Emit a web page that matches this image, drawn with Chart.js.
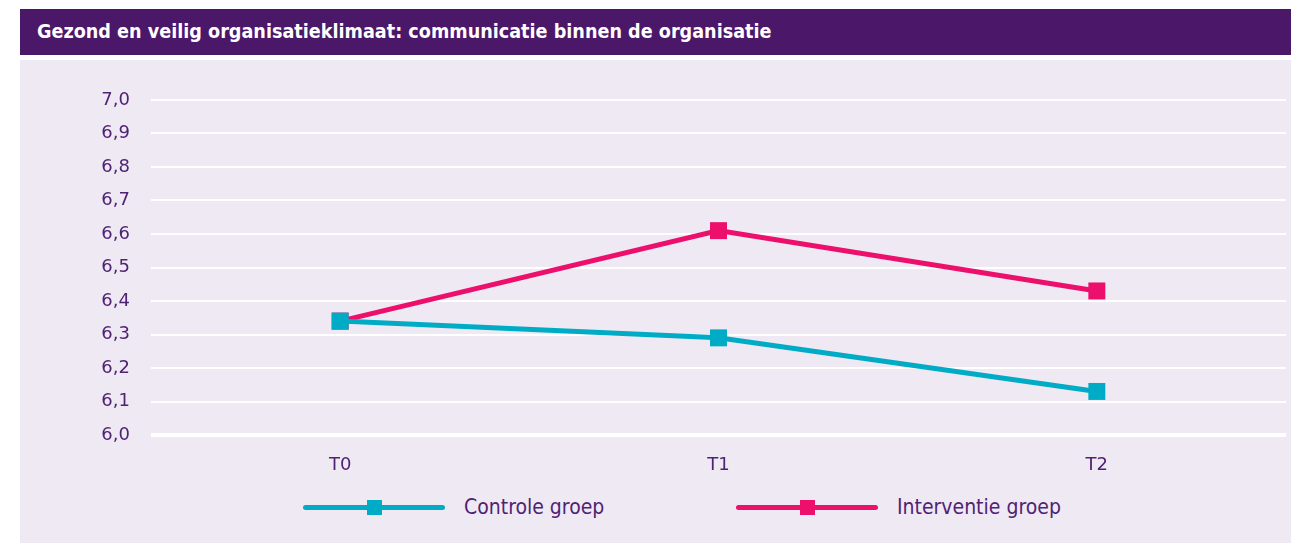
<!DOCTYPE html>
<html lang="nl">
<head>
    <meta charset="UTF-8">
    <title>Communicatie binnen de organisatie</title>
    <script src="https://cdn.jsdelivr.net/npm/chart.js"></script>
    <style>
        body {
            margin: 0;
            background: #ffffff;
            width: 1306px;
            height: 543px;
            position: relative;
            overflow: hidden;
        }

        .title-bar {
            position: absolute;
            left: 20px;
            top: 9px;
            width: 1271px;
            height: 46px;
            background: #4b1769;
            color: #ffffff;
            font-family: 'DejaVu Sans Condensed', sans-serif;
            font-weight: bold;
            font-size: 19.6px;
            line-height: 46px;
            padding-left: 17px;
            box-sizing: border-box;
        }

        .panel {
            position: absolute;
            left: 20px;
            top: 60px;
            width: 1271px;
            height: 483px;
            background: #efe9f4;
        }

        /* a bit wider than the panel: the line controller keeps
           half a marker of padding on the right */
        .chart-wrap {
            position: absolute;
            left: 0;
            top: 0;
            width: 1278px;
            height: 430px;
        }

        .legend {
            position: absolute;
            top: 433px;
            left: 0;
            height: 28px;
            width: 1271px;
        }

        .legend-item {
            position: absolute;
            top: 0;
            height: 28px;
            display: flex;
            align-items: center;
        }

        .legend-swatch {
            position: relative;
            width: 142px;
            height: 28px;
            margin-right: 19px;
        }

        .legend-swatch .line {
            position: absolute;
            left: 0;
            right: 0;
            top: 11.5px;
            height: 5px;
            border-radius: 3px;
        }

        .legend-swatch .mark {
            position: absolute;
            left: 63.5px;
            top: 6.5px;
            width: 15px;
            height: 15px;
        }

        .legend-text {
            font-family: 'DejaVu Sans Condensed', sans-serif;
            font-size: 21px;
            color: #4f2374;
        }
    </style>
</head>
<body>
    <div class="title-bar">Gezond en veilig organisatieklimaat: communicatie binnen de organisatie</div>
    <div class="panel">
        <div class="chart-wrap">
            <canvas id="lineChart"></canvas>
        </div>
        <div class="legend" id="legend"></div>
    </div>

    <script>
        const categories = ['T0', 'T1', 'T2'];
        const controleValues = [6.34, 6.29, 6.13];
        const interventieValues = [6.34, 6.61, 6.43];
        const seriesNames = ['Controle groep', 'Interventie groep'];
        const seriesColors = ['#00acc5', '#ec0f6b'];
        const legendLeft = [283, 716];

        const textColor = '#4f2374';
        const tickFont = { family: "'DejaVu Sans', sans-serif", size: 18 };

        const ctx = document.getElementById('lineChart').getContext('2d');

        const lineChart = new Chart(ctx, {
            type: 'line',
            data: {
                labels: categories,
                datasets: [{
                    label: seriesNames[0],
                    data: controleValues,
                    borderColor: seriesColors[0],
                    backgroundColor: seriesColors[0],
                    borderWidth: 5,
                    pointStyle: 'rect',
                    pointRadius: 12,
                    pointHoverRadius: 12,
                    pointBorderWidth: 0,
                    tension: 0
                }, {
                    label: seriesNames[1],
                    data: interventieValues,
                    borderColor: seriesColors[1],
                    backgroundColor: seriesColors[1],
                    borderWidth: 5,
                    pointStyle: 'rect',
                    pointRadius: 12,
                    pointHoverRadius: 12,
                    pointBorderWidth: 0,
                    tension: 0
                }]
            },
            options: {
                responsive: true,
                maintainAspectRatio: false,
                animation: false,
                layout: {
                    padding: { top: 40, right: 0, bottom: 10, left: 0 }
                },
                plugins: {
                    legend: { display: false },
                    tooltip: { enabled: false }
                },
                scales: {
                    x: {
                        offset: true,
                        grid: { display: false },
                        border: { display: false },
                        ticks: {
                            color: textColor,
                            font: tickFont,
                            padding: 12
                        },
                        afterFit: (axis) => { axis.height = 45; }
                    },
                    y: {
                        min: 6.0,
                        max: 7.0,
                        border: { display: false },
                        grid: {
                            color: '#ffffff',
                            lineWidth: (c) => c.index === 0 ? 4 : 2,
                            drawTicks: false
                        },
                        ticks: {
                            stepSize: 0.1,
                            color: textColor,
                            font: tickFont,
                            padding: 21,
                            callback: (v) => v.toFixed(1).replace('.', ',')
                        },
                        afterFit: (axis) => { axis.width = 131; }
                    }
                }
            }
        });

        // html legend, line with square marker
        const legend = document.getElementById('legend');
        seriesNames.forEach((name, i) => {
            const item = document.createElement('div');
            item.className = 'legend-item';
            item.style.left = legendLeft[i] + 'px';
            item.innerHTML =
                '<div class="legend-swatch">' +
                '<div class="line" style="background:' + seriesColors[i] + '"></div>' +
                '<div class="mark" style="background:' + seriesColors[i] + '"></div>' +
                '</div>' +
                '<span class="legend-text">' + name + '</span>';
            legend.appendChild(item);
        });
    </script>
</body>
</html>
